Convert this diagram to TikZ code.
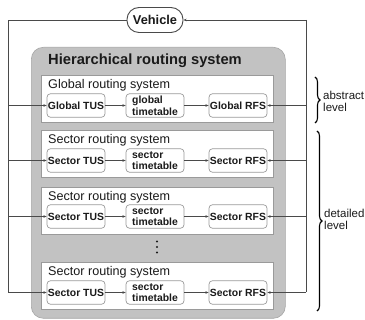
\documentclass[tikz,border=0pt]{standalone}
\usepackage{fontspec}
\setmainfont{Liberation Sans}
\usetikzlibrary{arrows.meta,decorations.pathreplacing}
\definecolor{lncol}{HTML}{4A4A4A}
\definecolor{grayfill}{HTML}{C2C2C2}
\definecolor{bordcol}{HTML}{9A9A9A}
\definecolor{txtcol}{HTML}{1A1A1A}
\tikzset{
  line/.style={draw=lncol, line width=0.8pt},
  arr/.style={line, -{Stealth[length=3.2pt,width=2.6pt]}},
  compbox/.style={draw=bordcol, fill=white, rounded corners=3.5pt, line width=0.7pt,
    minimum width=58pt, minimum height=23.5pt, inner sep=1pt, text=txtcol,
    font=\fontsize{10.4}{11.6}\selectfont\bfseries, align=left},
  panel/.style={draw=bordcol, fill=white, line width=0.8pt, minimum width=232pt,
    minimum height=47pt, inner sep=0pt, anchor=north west},
  ptitle/.style={anchor=west, inner sep=0pt, text=txtcol, font=\fontsize{12.6}{14}\selectfont},
  sidetxt/.style={anchor=west, inner sep=0pt, text=txtcol, align=left,
    font=\fontsize{11.5}{12.2}\selectfont},
  brc/.style={draw=black, line width=1.1pt, decorate, decoration={brace, amplitude=5pt}},
  dotmark/.style={circle, fill=txtcol, inner sep=0pt, minimum size=2.4pt},
}
\begin{document}
\begin{tikzpicture}[x=1pt,y=-1pt]
\useasboundingbox (0,0) rectangle (365,320);
% outer gray box
\node[draw=bordcol!70!grayfill, fill=grayfill, rounded corners=12pt, line width=0.6pt,
  minimum width=254pt, minimum height=271pt, anchor=north west, inner sep=0pt] (hrs) at (31,47) {};
\node[anchor=west, inner sep=0pt, text=txtcol, font=\fontsize{14.7}{16}\selectfont\bfseries]
  (hrst) at (48,61) {Hierarchical routing system};
% vehicle
\node[draw=lncol, fill=white, rounded corners=12pt, line width=0.9pt, minimum width=56pt,
  minimum height=25pt, inner sep=0pt, text=txtcol, font=\fontsize{12.8}{14}\selectfont\bfseries]
  (veh) at (155,20) {Vehicle};
% panels
\node[panel] (p0) at (41,75) {};
\node[panel] (p1) at (41,130) {};
\node[panel] (p2) at (41,187) {};
\node[panel] (p3) at (41,262) {};
\node[ptitle] (t0) at (48,85) {Global routing system};
\node[ptitle] (t1) at (48,140) {Sector routing system};
\node[ptitle] (t2) at (48,197) {Sector routing system};
\node[ptitle] (t3) at (48,272) {Sector routing system};
% boxes
\node[compbox] (gtus) at (76,105.5) {Global TUS};
\node[compbox] (gtt) at (155,105.5) {global\\timetable};
\node[compbox] (grfs) at (238,105.5) {Global RFS};
\node[compbox] (s1tus) at (76,160.5) {Sector TUS};
\node[compbox] (s1tt) at (155,160.5) {sector\\timetable};
\node[compbox] (s1rfs) at (238,160.5) {Sector RFS};
\node[compbox] (s2tus) at (76,216.5) {Sector TUS};
\node[compbox] (s2tt) at (155,216.5) {sector\\timetable};
\node[compbox] (s2rfs) at (238,216.5) {Sector RFS};
\node[compbox] (s3tus) at (76,292.5) {Sector TUS};
\node[compbox] (s3tt) at (155,292.5) {sector\\timetable};
\node[compbox] (s3rfs) at (238,292.5) {Sector RFS};
% dots
\node[dotmark] (d1) at (157,241.5) {};
\node[dotmark] (d2) at (157,247) {};
\node[dotmark] (d3) at (157,252.5) {};
% internal arrows
\foreach \r in {g,s1,s2,s3}{
  \draw[arr] (\r tus) -- (\r tt);
  \draw[arr] (\r tt) -- (\r rfs);
}
% left feedback line
\coordinate (lt) at (8,20);
\coordinate (lb) at (8,292.5);
\draw[line] (veh.west) -- (lt) -- (lb);
\foreach \n in {gtus,s1tus,s2tus,s3tus}{
  \draw[arr] (lt |- \n.west) -- (\n.west);
}
% right feedback line
\coordinate (rt) at (306,20);
\coordinate (rb) at (306,292.5);
\draw[arr] (rt) -- (veh.east);
\draw[line] (rt) -- (rb);
\foreach \n in {grfs,s1rfs,s2rfs,s3rfs}{
  \draw[arr] (rt |- \n.east) -- (\n.east);
}
% braces
\coordinate (ab1) at (315,77);
\coordinate (ab2) at (315,123);
\draw[brc] (ab1) -- (ab2);
\node[sidetxt] (abs) at (323,101) {abstract\\level};
\coordinate (db1) at (317,131);
\coordinate (db2) at (317,311);
\draw[brc] (db1) -- (db2);
\node[sidetxt] (det) at (324,219) {detailed\\level};
\end{tikzpicture}
\end{document}
